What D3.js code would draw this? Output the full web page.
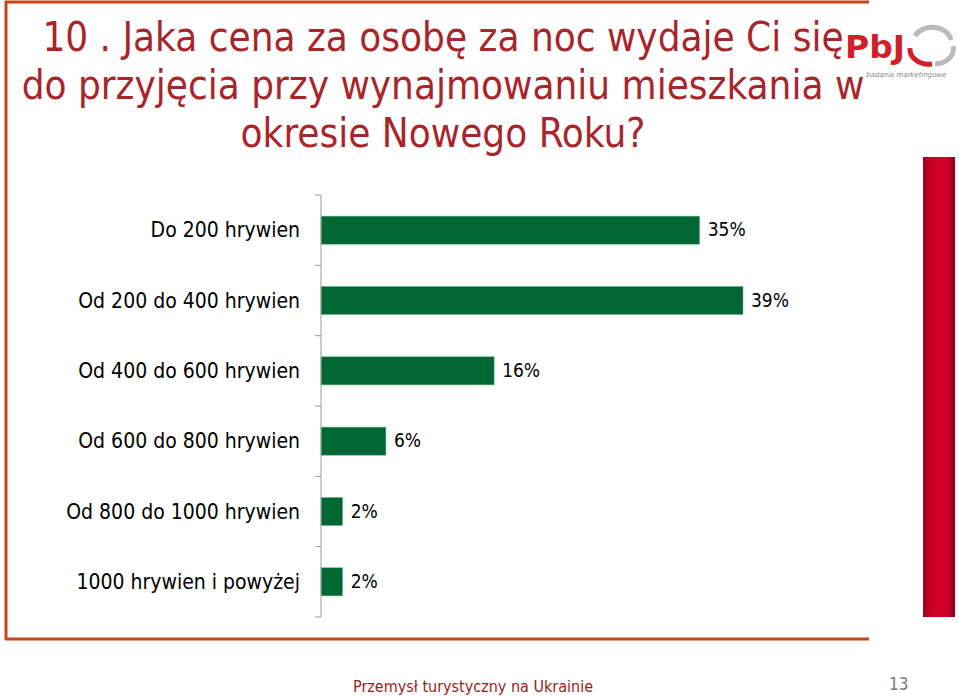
<!DOCTYPE html>
<html><head><meta charset="utf-8">
<script src="https://cdn.jsdelivr.net/npm/d3@7"></script>
<style>body{margin:0;background:#fff;}svg{display:block;}</style>
</head><body>
<svg id="c" width="959" height="696"></svg>
<script>
const categories = ["Do 200 hrywien","Od 200 do 400 hrywien","Od 400 do 600 hrywien","Od 600 do 800 hrywien","Od 800 do 1000 hrywien","1000 hrywien i powyżej"];
const values = [35, 39, 16, 6, 2, 2];
const valueLabels = ["35%","39%","16%","6%","2%","2%"];
const titleLines = ["10 . Jaka cena za osobę za noc wydaje Ci się", "do przyjęcia przy wynajmowaniu mieszkania w", "okresie Nowego Roku?"];
const footerText = "Przemysł turystyczny na Ukrainie";
const pageNumber = "13";

const FONT = "'DejaVu Sans',sans-serif";
const CFONT = "'DejaVu Sans Condensed','DejaVu Sans',sans-serif";
const svg = d3.select("#c");
const defs = svg.append("defs");
const g1 = defs.append("linearGradient").attr("id","rb").attr("x1","0").attr("x2","1").attr("y1","0").attr("y2","0");
g1.append("stop").attr("offset","0").attr("stop-color","#9c0018");
g1.append("stop").attr("offset","0.35").attr("stop-color","#d4002a");
g1.append("stop").attr("offset","0.75").attr("stop-color","#d0002a");
g1.append("stop").attr("offset","1").attr("stop-color","#8a0015");

// frame
const fc = "#c8441b";
svg.append("line").attr("x1",5).attr("x2",869).attr("y1",2).attr("y2",2).attr("stroke",fc).attr("stroke-width",3);
svg.append("line").attr("x1",6).attr("x2",6).attr("y1",1).attr("y2",640).attr("stroke",fc).attr("stroke-width",3);
svg.append("line").attr("x1",5).attr("x2",869).attr("y1",639).attr("y2",639).attr("stroke",fc).attr("stroke-width",3);

// red side bar
svg.append("rect").attr("x",923).attr("y",157).attr("width",32).attr("height",460).attr("fill","url(#rb)");

// title
const tc = "#a8262b";
svg.append("g").selectAll("text").data(titleLines).join("text")
  .attr("x",443).attr("y",(d,i)=>51+i*48).attr("text-anchor","middle")
  .attr("font-family",CFONT).attr("font-size",40).attr("fill",tc).text(d=>d);

// logo
const lg = svg.append("g");
lg.append("rect").attr("x",842).attr("y",22).attr("width",117).attr("height",44).attr("fill","#fff");
lg.append("text").attr("x",845).attr("y",58).attr("font-family",FONT).attr("font-weight","bold")
  .attr("font-size",32).attr("fill","#d0202a").attr("textLength",60).attr("lengthAdjust","spacingAndGlyphs").text("PbJ");
lg.append("path").attr("d","M 915 36 A 19 15 0 0 1 951 40").attr("fill","none").attr("stroke","#bbb").attr("stroke-width",5);
lg.append("path").attr("d","M 953 46 A 19 15 0 0 1 935 64").attr("fill","none").attr("stroke","#bbb").attr("stroke-width",5);
lg.append("path").attr("d","M 932 64 A 19 15 0 0 1 910 48").attr("fill","none").attr("stroke","#d42027").attr("stroke-width",5);
lg.append("text").attr("x",866).attr("y",77).attr("font-family",FONT).attr("font-style","italic")
  .attr("font-size",7).attr("fill","#888").text("badania marketingowe");

// chart
const x0 = 321, yTop = 195, yBot = 617;
const x = d3.scaleLinear().domain([0, 39]).range([x0, x0 + 422]);
const y = d3.scaleBand().domain(categories).range([yTop, yBot]).paddingInner(0.6).paddingOuter(0.3);

const bars = svg.append("g");
bars.selectAll("rect").data(values).join("rect")
  .attr("x", x(0)).attr("y",(d,i)=>y(categories[i]))
  .attr("width", d=>x(d)-x(0)).attr("height", y.bandwidth())
  .attr("fill","#006633").attr("stroke","#6fbf94").attr("stroke-width",0.6);

bars.selectAll("text").data(values).join("text")
  .attr("x", d=>x(d)+8).attr("y",(d,i)=>y(categories[i])+y.bandwidth()/2+6)
  .attr("font-family",CFONT).attr("font-size",19).attr("fill","#000").text((d,i)=>valueLabels[i]);

// axis
const step = (yBot - yTop)/categories.length;
const ax = svg.append("g");
ax.append("line").attr("x1",x0).attr("x2",x0).attr("y1",yTop).attr("y2",yBot).attr("stroke","#999").attr("stroke-width",1);
ax.selectAll("line.t").data(d3.range(categories.length+1)).join("line").attr("class","t")
  .attr("x1",x0-6).attr("x2",x0).attr("y1",d=>yTop+d*step).attr("y2",d=>yTop+d*step).attr("stroke","#999");
ax.selectAll("text").data(categories).join("text")
  .attr("x",300).attr("y",d=>y(d)+y.bandwidth()/2+7).attr("text-anchor","end")
  .attr("font-family",CFONT).attr("font-size",21).attr("fill","#000").text(d=>d);

// footer
svg.append("text").attr("x",353).attr("y",692).attr("font-family",CFONT).attr("font-size",16).attr("fill","#9b1c20").text(footerText);
svg.append("text").attr("x",889).attr("y",690).attr("font-family",CFONT).attr("font-size",17).attr("fill","#777").text(pageNumber);
</script>
</body></html>
